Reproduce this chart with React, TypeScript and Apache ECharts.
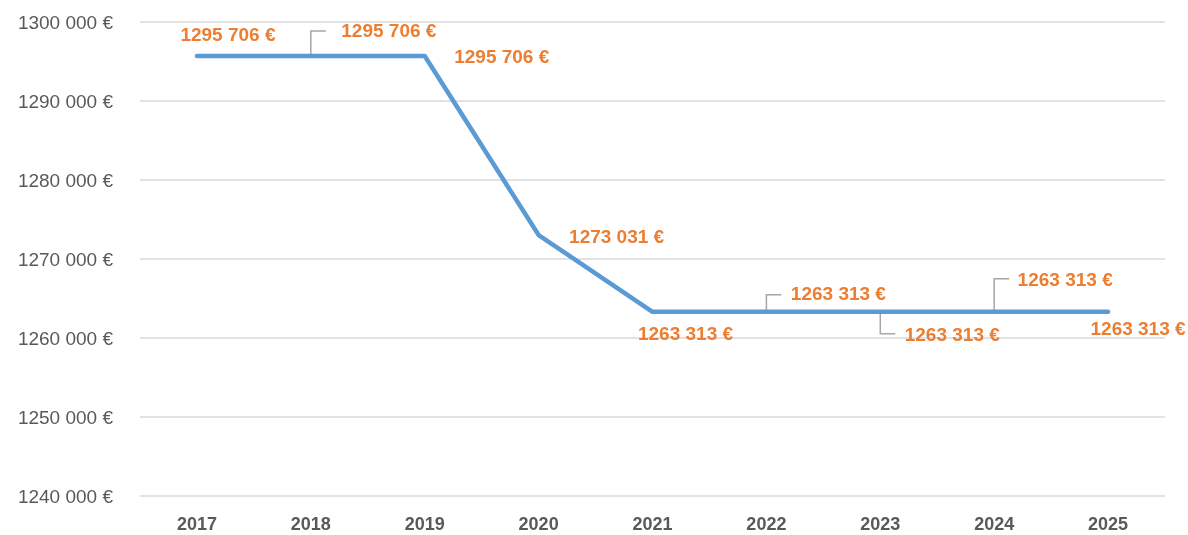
import React, { useEffect, useRef } from "react";
import * as echarts from "echarts";

const categories = ["2017", "2018", "2019", "2020", "2021", "2022", "2023", "2024", "2025"];
const values = [1295706, 1295706, 1295706, 1273031, 1263313, 1263313, 1263313, 1263313, 1263313];
const yTicks = { min: 1240000, max: 1300000, interval: 10000 };

// label offsets (label centre relative to the point), in px
const labelOffsets: number[][] = [
  [31, -21],
  [78, -25],
  [77, 1],
  [78, 1],
  [33, 22],
  [72, -18],
  [72, 23],
  [71, -32],
  [30, 17],
];
// leader lines: index -> vertical pixel extent (negative = up)
const leaders: Record<number, number> = { 1: -25, 5: -17, 6: 22, 7: -33 };

const fmt = (v: number) => {
  const s = Math.round(v).toString();
  return s.slice(0, -3) + " " + s.slice(-3) + " €";
};

const FONT = "'Liberation Sans', Arial, sans-serif";

export default function App() {
  const ref = useRef<HTMLDivElement>(null);
  useEffect(() => {
    if (!ref.current) return;
    const chart = echarts.init(ref.current, undefined, { renderer: "svg" });
    const leaderData = Object.keys(leaders).map((k) => {
      const i = Number(k);
      return [i, values[i], leaders[i]];
    });
    chart.setOption({
      animation: false,
      grid: { left: 140, right: 23, top: 22, bottom: 39 },
      xAxis: {
        type: "category",
        data: categories,
        boundaryGap: true,
        axisLine: { show: false },
        axisTick: { show: false },
        axisLabel: {
          color: "#595959",
          fontFamily: FONT,
          fontWeight: "bold",
          fontSize: 18,
          margin: 19,
        },
      },
      yAxis: {
        type: "value",
        min: yTicks.min,
        max: yTicks.max,
        interval: yTicks.interval,
        axisLine: { show: false },
        axisTick: { show: false },
        splitLine: { lineStyle: { color: "#D9D9D9", width: 1.5 } },
        axisLabel: {
          color: "#595959",
          fontFamily: FONT,
          fontSize: 19,
          margin: 27,
          formatter: (v: number) => fmt(v),
        },
      },
      series: [
        {
          type: "custom",
          silent: true,
          z: 1,
          data: leaderData,
          renderItem: (params: any, api: any) => {
            const p = api.coord([api.value(0), api.value(1)]);
            const dy = api.value(2);
            return {
              type: "polyline",
              shape: {
                points: [
                  [p[0], p[1]],
                  [p[0], p[1] + dy],
                  [p[0] + 15, p[1] + dy],
                ],
              },
              style: { stroke: "#A6A6A6", lineWidth: 1.5, fill: "none" },
            };
          },
        },
        {
          type: "line",
          z: 2,
          data: values.map((v, i) => ({
            value: v,
            label: { offset: labelOffsets[i] },
          })),
          symbol: "circle",
          symbolSize: 1,
          showSymbol: true,
          itemStyle: { color: "#5B9BD5" },
          lineStyle: { color: "#5B9BD5", width: 4.5, cap: "round", join: "round" },
          emphasis: { disabled: true },
          label: {
            show: true,
            position: "inside",
            color: "#ED7D31",
            fontFamily: FONT,
            fontWeight: "bold",
            fontSize: 19,
            formatter: (p: any) => fmt(p.value),
          },
        },
      ],
    });
    return () => chart.dispose();
  }, []);
  return (
    <div
      ref={ref}
      style={{ position: "fixed", left: 0, top: 0, width: 1188, height: 535 }}
    />
  );
}
